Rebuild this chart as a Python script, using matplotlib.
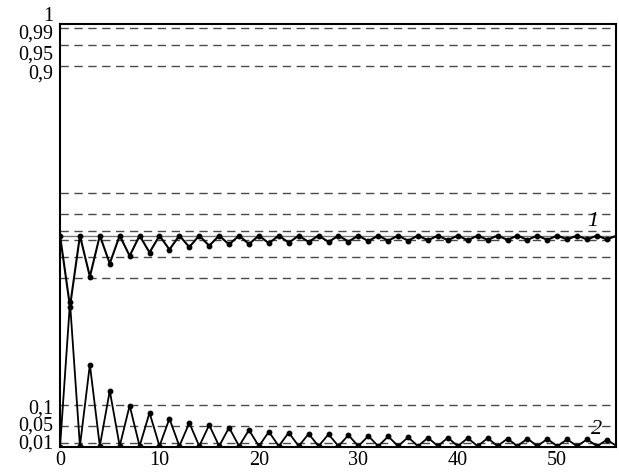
import numpy as np
import matplotlib
matplotlib.use("Agg")
import matplotlib.pyplot as plt
import matplotlib.transforms as mtransforms

plt.rcParams['font.family'] = ['Liberation Serif', 'DejaVu Serif']

# curve 1: oscillates around 0.5
curve1 = [0.500, 0.332, 0.500, 0.403, 0.500, 0.434, 0.500, 0.452, 0.500, 0.460,
          0.500, 0.467, 0.500, 0.473, 0.500, 0.476, 0.500, 0.479, 0.500, 0.480,
          0.500, 0.482, 0.500, 0.483, 0.500, 0.485, 0.500, 0.485, 0.500, 0.486,
          0.500, 0.487, 0.500, 0.488, 0.500, 0.488, 0.500, 0.489, 0.500, 0.489,
          0.500, 0.489, 0.500, 0.490, 0.500, 0.490, 0.500, 0.490, 0.500, 0.490,
          0.500, 0.491, 0.500, 0.491, 0.500, 0.491, 0.500]
# curve 2: decaying peaks near zero
curve2 = [0.000, 0.342, 0.002, 0.195, 0.002, 0.133, 0.002, 0.098, 0.002, 0.081,
          0.002, 0.067, 0.002, 0.057, 0.002, 0.052, 0.002, 0.046, 0.002, 0.040,
          0.002, 0.036, 0.002, 0.034, 0.002, 0.031, 0.002, 0.030, 0.002, 0.028,
          0.002, 0.026, 0.002, 0.025, 0.002, 0.023, 0.002, 0.022, 0.002, 0.022,
          0.002, 0.021, 0.002, 0.021, 0.002, 0.020, 0.002, 0.020, 0.002, 0.019,
          0.002, 0.018, 0.002, 0.018, 0.002, 0.017, 0.002]
steps = np.arange(len(curve1))

levels = [0.01, 0.05, 0.1, 0.4, 0.45, 0.49, 0.51, 0.55, 0.6, 0.9, 0.95, 0.99]
ytick_vals = [0.01, 0.05, 0.1, 0.9, 0.95, 0.99, 1]
ytick_labels = ['0,01', '0,05', '0,1', '0,9', '0,95', '0,99', '1']
# vertical nudge (points) so the crowded labels do not overlap
ytick_nudge = [1, 1.5, -1, -3.5, -5, -2.5, 7.5]
xtick_vals = [0, 10, 20, 30, 40, 50]

fig = plt.figure(figsize=(6.19, 4.75), dpi=100)
ax = fig.add_axes([0.097, 0.059, 0.898, 0.890])

for lv in levels:
    ax.axhline(lv, color='#4a4a4a', lw=1.0, ls=(0, (6, 4)), zorder=1)
ax.axhline(0.5, color='#777777', lw=1.0, zorder=1)

ax.plot(steps, curve1, color='black', lw=1.5, marker='o', ms=3.2, zorder=3)
ax.plot(steps, curve2, color='black', lw=1.3, marker='o', ms=3.2, zorder=3)

ax.text(53.6, 0.512, '1', fontsize=16, style='italic', ha='center', va='bottom')
ax.text(54.0, 0.020, '2', fontsize=16, style='italic', ha='center', va='bottom')

ax.set_xlim(0, 55.9)
ax.set_ylim(0, 1)
ax.set_xticks(xtick_vals)
ax.set_yticks(ytick_vals)
ax.set_yticklabels(ytick_labels)
ax.tick_params(length=0, labelsize=14.5)
ax.tick_params(axis='y', pad=5)
ax.tick_params(axis='x', pad=3)
for lab, dy in zip(ax.get_yticklabels(), ytick_nudge):
    off = mtransforms.ScaledTranslation(0, dy / 72, fig.dpi_scale_trans)
    lab.set_transform(lab.get_transform() + off)
for s in ax.spines.values():
    s.set_linewidth(1.5)

plt.savefig('out.png', dpi=100)
